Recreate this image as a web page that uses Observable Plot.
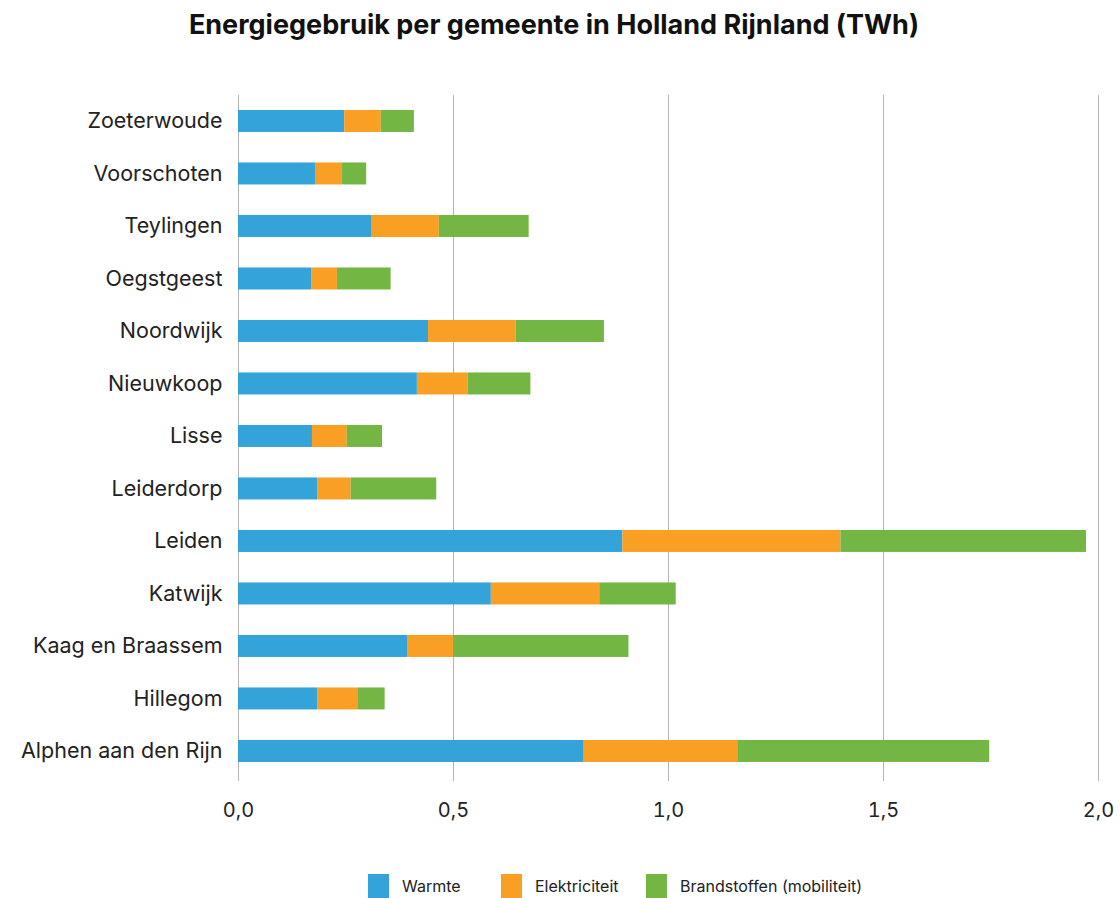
<!DOCTYPE html>
<html lang="nl">
<head>
<meta charset="utf-8">
<script src="https://cdn.jsdelivr.net/npm/d3@7"></script>
<script src="https://cdn.jsdelivr.net/npm/@observablehq/plot@0.6"></script>
<style>
  body { margin: 0; background: #fff; font-family: Inter, "Open Sans", sans-serif; color: #1a1a1a; }
  #title { height: 60px; line-height: 50px; text-align: center; font-size: 27px; font-weight: 700; padding-right: 12px; color: #111; }
  #chart svg { display: block; }
  #legend { display: flex; align-items: center; margin-top: 43px; padding-left: 368px; height: 24px; font-size: 16px; color: #222; }
  #legend .item { display: flex; align-items: center; }
  #legend .sw { width: 21px; height: 24px; margin-right: 13px; }
</style>
</head>
<body>
<div id="title">Energiegebruik per gemeente in Holland Rijnland (TWh)</div>
<div id="chart"></div>
<div id="legend"></div>
<script>
// Gemeenten, van boven naar beneden
const gemeenten = [
  "Zoeterwoude", "Voorschoten", "Teylingen", "Oegstgeest", "Noordwijk", "Nieuwkoop",
  "Lisse", "Leiderdorp", "Leiden", "Katwijk", "Kaag en Braassem", "Hillegom", "Alphen aan den Rijn"
];
// Energiegebruik in TWh per gemeente
const warmte        = [0.247, 0.179, 0.311, 0.170, 0.442, 0.416, 0.172, 0.184, 0.894, 0.588, 0.393, 0.184, 0.804];
const elektriciteit = [0.085, 0.063, 0.156, 0.060, 0.204, 0.118, 0.081, 0.078, 0.507, 0.252, 0.107, 0.095, 0.357];
const brandstoffen  = [0.077, 0.056, 0.209, 0.125, 0.205, 0.146, 0.082, 0.199, 0.571, 0.178, 0.408, 0.062, 0.586];

const reeksen = ["Warmte", "Elektriciteit", "Brandstoffen (mobiliteit)"];
const kleuren = ["#33a3da", "#f89f24", "#74b643"];
const xTicks = [0, 0.5, 1, 1.5, 2];

const rows = [];
gemeenten.forEach((g, i) => {
  rows.push({ gemeente: g, reeks: reeksen[0], waarde: warmte[i] });
  rows.push({ gemeente: g, reeks: reeksen[1], waarde: elektriciteit[i] });
  rows.push({ gemeente: g, reeks: reeksen[2], waarde: brandstoffen[i] });
});

const chart = Plot.plot({
  width: 1120,
  height: 771,
  marginTop: 35,
  marginBottom: 50,
  marginLeft: 238,
  marginRight: 22,
  style: { fontFamily: "Inter, 'Open Sans', sans-serif", fontSize: "20px", color: "#222", background: "white" },
  x: { domain: [0, 2], label: null },
  y: { domain: gemeenten, label: null, paddingInner: 0.581, paddingOuter: 0.324, align: 0.44, round: false },
  color: { domain: reeksen, range: kleuren },
  marks: [
    Plot.ruleX(xTicks, { stroke: "#b4b4b4", strokeWidth: 1 }),
    Plot.barX(rows, { x: "waarde", y: "gemeente", fill: "reeks" }),
    Plot.axisX({ ticks: xTicks, tickSize: 0, tickPadding: 21, tickFormat: d => d.toFixed(1).replace(".", ","), label: null, fontSize: 20 }),
    Plot.axisY({ tickSize: 0, tickPadding: 16, label: null, fontSize: 21.5 })
  ]
});
document.getElementById("chart").appendChild(chart);

// Legenda onder de grafiek
const legend = document.getElementById("legend");
const widths = [133, 145, null];
reeksen.forEach((r, i) => {
  const item = document.createElement("div");
  item.className = "item";
  if (widths[i]) item.style.width = widths[i] + "px";
  const sw = document.createElement("span");
  sw.className = "sw";
  sw.style.background = kleuren[i];
  const t = document.createElement("span");
  t.textContent = r;
  item.appendChild(sw);
  item.appendChild(t);
  legend.appendChild(item);
});
</script>
</body>
</html>
